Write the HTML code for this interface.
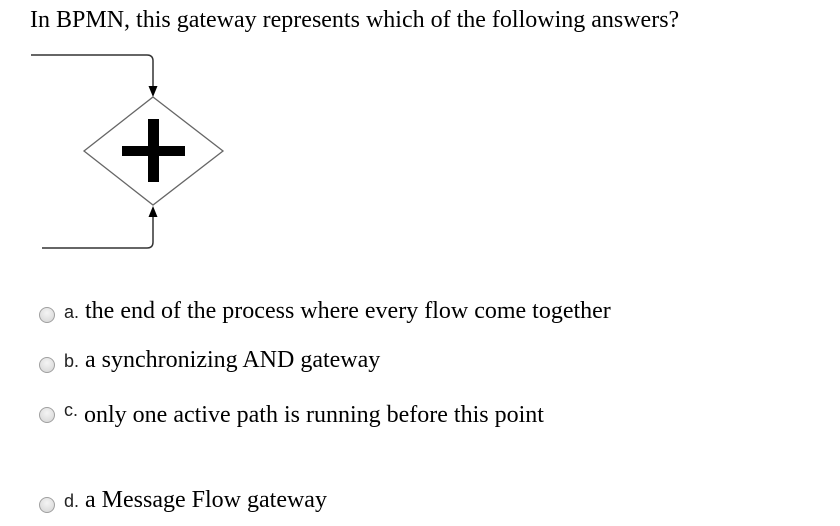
<!DOCTYPE html>
<html><head><style>
body{margin:0;width:840px;height:526px;background:#fff;position:relative;overflow:hidden;font-family:"Liberation Serif",serif;color:#000}
.t{position:absolute;white-space:nowrap}
.r{position:absolute;width:16px;height:16px;border-radius:50%;border:1px solid #a0a0a0;background:radial-gradient(circle at 50% 35%,#f4f4f4,#d4d4d4);box-sizing:border-box}
.l{font-family:"Liberation Sans",sans-serif;font-size:18px;color:#222}
</style></head><body>
<div class="t" style="left:30px;top:7px;font-size:24px">In BPMN, this gateway represents which of the following answers?</div>
<svg width="840" height="526" style="position:absolute;left:0;top:0">
<path d="M31 55 H147 Q153 55 153 61 V88" fill="none" stroke="#333" stroke-width="1.5"/>
<polygon points="148.5,86 157.5,86 153,97" fill="#000"/>
<path d="M42 248 H147 Q153 248 153 242 V216" fill="none" stroke="#333" stroke-width="1.5"/>
<polygon points="148.5,217 157.5,217 153,206" fill="#000"/>
<polygon points="153,97 223,151 153,205 84,151" fill="#fff" stroke="#666" stroke-width="1.3"/>
<rect x="122" y="146" width="63" height="10" fill="#000"/>
<rect x="148" y="119" width="11" height="63" fill="#000"/>
</svg>
<div class="r" style="left:39px;top:307px"></div>
<div class="t" style="left:64px;top:298px;font-size:24px"><span class="l">a.</span> the end of the process where every flow come together</div>
<div class="r" style="left:39px;top:357px"></div>
<div class="t" style="left:64px;top:347px;font-size:24px"><span class="l">b.</span> a synchronizing AND gateway</div>
<div class="r" style="left:39px;top:407px"></div>
<div class="t" style="left:64px;top:402px;font-size:24px"><span class="l" style="position:relative;top:-6px">c.</span> only one active path is running before this point</div>
<div class="r" style="left:39px;top:497px"></div>
<div class="t" style="left:64px;top:487px;font-size:24px"><span class="l">d.</span> a Message Flow gateway</div>
</body></html>
